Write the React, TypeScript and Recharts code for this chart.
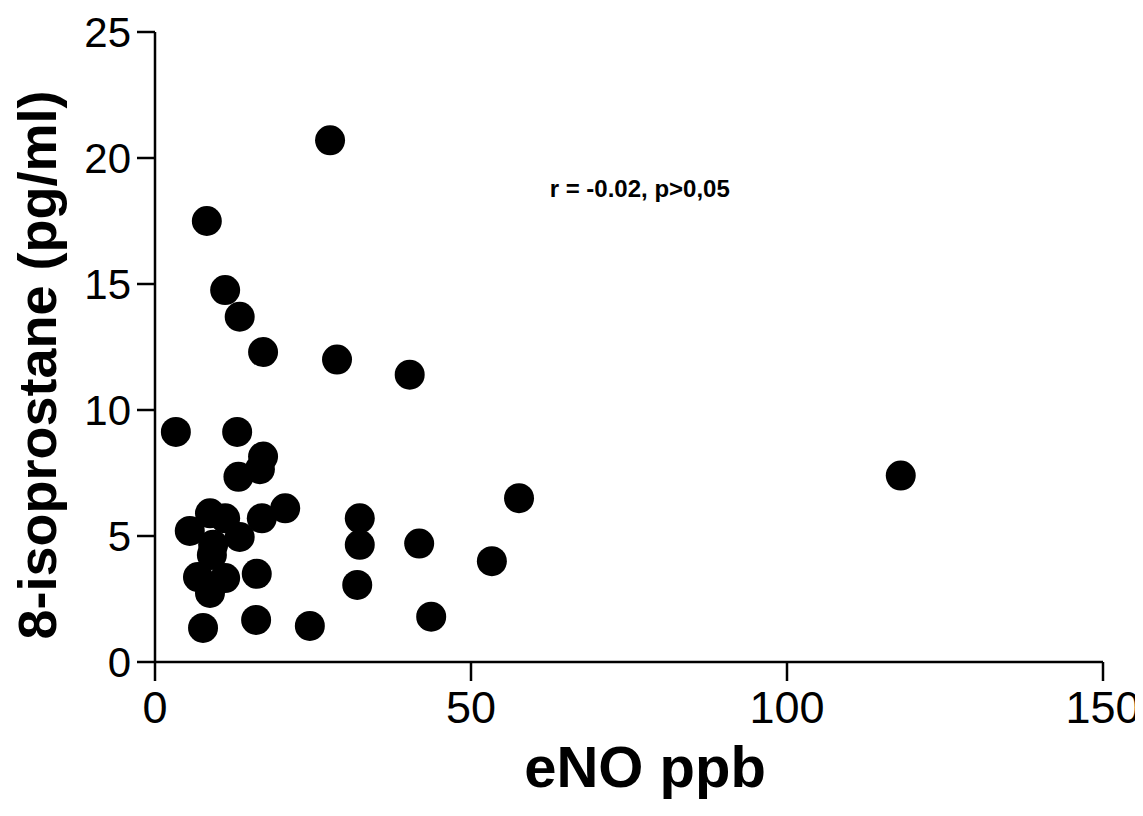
import { ScatterChart, Scatter, XAxis, YAxis, ReferenceDot } from "recharts";

// eNO (ppb) vs 8-isoprostane (pg/ml)
const enoValues = [
  27.7, 8.2, 11.1, 13.4, 17.1, 28.8, 40.3, 3.3, 13.0, 17.1, 16.6, 13.2,
  20.6, 16.9, 8.7, 11.1, 5.5, 13.4, 9.2, 9.0, 6.8, 11.1, 8.7, 16.1,
  7.6, 16.0, 24.5, 32.4, 32.4, 32.0, 41.8, 43.7, 53.3, 57.6, 118.0,
];
const isoValues = [
  20.7, 17.5, 14.76, 13.7, 12.3, 12.0, 11.4, 9.13, 9.13, 8.15, 7.65, 7.35,
  6.1, 5.7, 5.9, 5.7, 5.2, 4.96, 4.65, 4.25, 3.37, 3.33, 2.74, 3.5,
  1.35, 1.67, 1.43, 5.7, 4.65, 3.06, 4.7, 1.8, 4.0, 6.5, 7.4,
];
const xTicks = [0, 50, 100, 150];
const yTicks = [0, 5, 10, 15, 20, 25];

const points = enoValues.map((x, i) => ({ x, y: isoValues[i] }));

const FONT = "'Liberation Sans', Arial, sans-serif";

const Dot = (props: any) => {
  const { cx, cy } = props;
  return <circle cx={cx} cy={cy} r={15} fill="#000" />;
};

const YTitle = () => (
  <text
    x={29}
    y={357}
    transform="rotate(-90 29 357)"
    textAnchor="middle"
    dominantBaseline="central"
    fill="#000"
    fontSize={54}
    fontWeight="bold"
    fontFamily={FONT}
  >
    8-isoprostane (pg/ml)
  </text>
);

const XTitle = () => (
  <text
    x={637}
    y={779}
    textAnchor="middle"
    fill="#000"
    fontSize={58}
    fontWeight="bold"
    fontFamily={FONT}
  >
    eNO ppb
  </text>
);

export default function App() {
  return (
    <div style={{ width: 1135, height: 800, background: "#fff" }}>
      <ScatterChart
        width={1135}
        height={800}
        margin={{ top: 24, right: 40, left: 0, bottom: 0 }}
        style={{ overflow: "visible" }}
      >
        <XAxis
          type="number"
          dataKey="x"
          domain={[0, 150]}
          ticks={xTicks}
          height={146}
          tickSize={19}
          tickMargin={10}
          stroke="#000"
          strokeWidth={2.5}
          tick={{ fill: "#000", fontSize: 45, fontFamily: FONT }}
          label={XTitle}
        />
        <YAxis
          type="number"
          dataKey="y"
          domain={[0, 25]}
          ticks={yTicks}
          width={147}
          tickSize={18}
          tickMargin={6}
          stroke="#000"
          strokeWidth={2.5}
          tick={{ fill: "#000", fontSize: 42, fontFamily: FONT }}
          label={YTitle}
        />
        <ReferenceDot
          x={76.7}
          y={18.8}
          r={0}
          stroke="none"
          label={{
            value: "r = -0.02, p>0,05",
            position: "center",
            style: { fill: "#000", fontSize: 24, fontWeight: "bold", fontFamily: FONT },
          }}
        />
        <Scatter data={points} shape={Dot} isAnimationActive={false} />
      </ScatterChart>
    </div>
  );
}
